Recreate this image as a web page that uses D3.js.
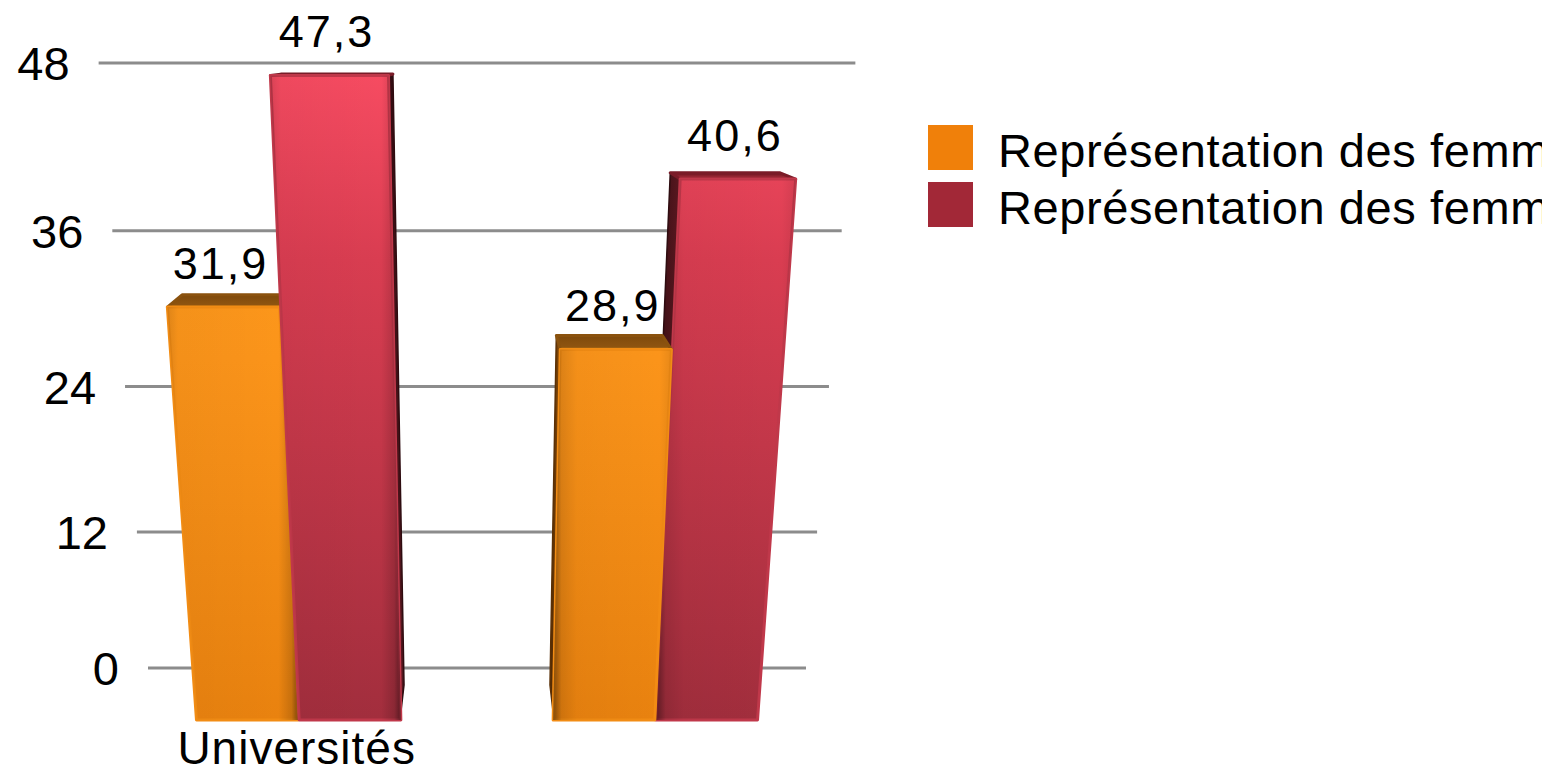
<!DOCTYPE html>
<html><head><meta charset="utf-8">
<script src="https://cdn.jsdelivr.net/npm/d3@7"></script>
<style>html,body{margin:0;padding:0;background:#fff;overflow:hidden}svg{display:block}</style>
</head><body>
<svg id="chart" width="1542" height="772"></svg>
<script>
// ---------- data ----------
const categories = ["Universités", ""];
const seriesNames = ["Représentation des femmes parmi les étudiants", "Représentation des femmes parmi les enseignants"];
const series1 = [31.9, 28.9];
const series2 = [47.3, 40.6];
const valueLabels1 = ["31,9", "28,9"];
const valueLabels2 = ["47,3", "40,6"];
const yTicks = [0, 12, 24, 36, 48];
const yTickLabels = ["0", "12", "24", "36", "48"];

// ---------- styles ----------
const FONT = "'Liberation Sans', Arial, sans-serif";
const legendColors = ["#F0800A", "#A22837"];

// ---------- camera (perspective) ----------
const W = 1542, H = 772;
const cx = 477, cy = 386, horizonY = 50, vpY = 4700;
const F = Math.sqrt((cy - horizonY) * (vpY - cy));
const phi = Math.atan((cy - horizonY) / F);
const cs = Math.cos(phi), sn = Math.sin(phi);
function proj(X, Y, Z) { const yc = Y * cs + Z * sn, zc = -Y * sn + Z * cs; return [cx + F * X / zc, cy - F * yc / zc]; }
function worldY(sy, Z) { const u = (cy - sy) / F; return Z * (u * cs - sn) / (cs + u * sn); }
function worldZ(sy, Y) { const u = (cy - sy) / F; return Y * (cs + u * sn) / (u * cs - sn); }
function worldX(sx, Y, Z) { const zc = -Y * sn + Z * cs; return (sx - cx) * zc / F; }
const Zw = 1000;
const floorY = worldY(668, Zw), wallTopY = worldY(63, Zw);
const Zf = worldZ(720, floorY);
const depth = 48;
const halfW = worldX(806, floorY, Zw);

// ---------- scales ----------
const y = d3.scaleLinear().domain([0, 48]).range([floorY, wallTopY]);
const xCat = d3.scaleBand().domain(categories).range([-halfW, halfW]).paddingInner(0.427).paddingOuter(0.2135);
const xSer = d3.scaleBand().domain([0, 1]).range([0, xCat.bandwidth()]).paddingInner(0.01);

const svg = d3.select("#chart");
const defs = svg.append("defs");

function lg(id, stops, x1, y1, x2, y2, units) {
  const g = defs.append("linearGradient").attr("id", id)
    .attr("x1", x1).attr("y1", y1).attr("x2", x2).attr("y2", y2);
  if (units) g.attr("gradientUnits", units);
  stops.forEach(s => g.append("stop").attr("offset", s[0]).attr("stop-color", s[1]).attr("stop-opacity", s[2] == null ? 1 : s[2]));
}
lg("frontO", [[0, "#FFA01E"], [0.45, "#FB941A"], [1, "#E9820F"]], 0, 63, 0, 720, "userSpaceOnUse");
lg("frontR", [[0, "#F84C62"], [0.3, "#D93D51"], [1, "#A22E3D"]], 0, 63, 0, 720, "userSpaceOnUse");
lg("topO", [[0, "#7E4A0C"], [0.8, "#8E5410"], [1, "#C07A14"]], 0, 0, 0, 1);
lg("topR", [[0, "#6A1620"], [1, "#B2303F"]], 0, 0, 0, 1);
lg("sideO", [[0, "#4A2604"], [1, "#8A4C08"]], 0, 0, 1, 0);
lg("sideR", [[0, "#2A0A0E"], [1, "#5A1820"]], 0, 0, 1, 0);
// edge shading: darker on the edge turned toward the centre of view
lg("shadeLeftDark", [[0, "#000", 0.45], [0.07, "#000", 0.12], [0.2, "#000", 0.03], [0.9, "#000", 0], [1, "#000", 0.08]], 0, 0, 1, 0);
lg("shadeRightDark", [[0, "#000", 0.12], [0.08, "#000", 0.03], [0.85, "#000", 0], [0.95, "#000", 0.15], [1, "#000", 0.45]], 0, 0, 1, 0);

// ---------- gridlines on back wall ----------
const grid = svg.append("g");
yTicks.forEach((t, i) => {
  const a = proj(-halfW, y(t), Zw), b = proj(halfW, y(t), Zw);
  grid.append("line").attr("x1", a[0]).attr("y1", a[1]).attr("x2", b[0]).attr("y2", b[1])
    .attr("stroke", "#8C8C8C").attr("stroke-width", 3);
  grid.append("text").attr("x", a[0] - 29).attr("y", a[1] + 17)
    .attr("text-anchor", "end").attr("font-family", FONT).attr("font-size", 47).attr("fill", "#000")
    .text(yTickLabels[i]);
});

// ---------- bars ----------
const bars = [];
categories.forEach((c, ci) => {
  [series1, series2].forEach((s, si) => {
    const X0 = xCat(c) + xSer(si), X1 = X0 + xSer.bandwidth();
    bars.push({ ci, si, v: s[ci], X0, X1, label: (si === 0 ? valueLabels1 : valueLabels2)[ci] });
  });
});
bars.sort((a, b) => Math.abs((b.X0 + b.X1) / 2) - Math.abs((a.X0 + a.X1) / 2));

const poly = pts => "M" + pts.map(p => p[0].toFixed(2) + "," + p[1].toFixed(2)).join("L") + "Z";
const gb = svg.append("g");
bars.forEach(b => {
  const Y0 = floorY, Y1 = y(b.v), Z0 = Zf, Z1 = Zf + depth;
  const key = b.si === 0 ? "O" : "R";
  const g = gb.append("g");
  const sideStroke = b.si === 0 ? "#5A3006" : "#2E0C10";
  if (b.X0 > 0) {
    g.append("path").attr("d", poly([proj(b.X0, Y0 + 6, Z1), proj(b.X0, Y1, Z1), proj(b.X0, Y1, Z0), proj(b.X0, Y0 + 6, Z0)]))
      .attr("fill", `url(#side${key})`).attr("stroke", sideStroke).attr("stroke-width", 1.5).attr("stroke-linejoin", "round");
  }
  if (b.X1 < 0) {
    g.append("path").attr("d", poly([proj(b.X1, Y0 + 6, Z0), proj(b.X1, Y1, Z0), proj(b.X1, Y1, Z1), proj(b.X1, Y0 + 6, Z1)]))
      .attr("fill", `url(#side${key})`).attr("stroke", sideStroke).attr("stroke-width", 1.5).attr("stroke-linejoin", "round");
  }
  const tf = proj(b.X0, Y1, Z0), tb = proj(b.X0, Y1, Z1);
  if (tb[1] < tf[1]) {
    g.append("path").attr("d", poly([proj(b.X0, Y1, Z1), proj(b.X1, Y1, Z1), proj(b.X1, Y1, Z0), proj(b.X0, Y1, Z0)]))
      .attr("fill", `url(#top${key})`).attr("stroke", b.si === 0 ? "#8A520E" : "#7A1C28").attr("stroke-width", 3).attr("stroke-linejoin", "round");
  }
  const front = poly([proj(b.X0, Y0, Z0), proj(b.X0, Y1, Z0), proj(b.X1, Y1, Z0), proj(b.X1, Y0, Z0)]);
  g.append("path").attr("d", front).attr("fill", `url(#front${key})`)
    .attr("stroke", b.si === 0 ? "#F28C14" : "#C0384A").attr("stroke-width", 3).attr("stroke-linejoin", "round");
  const centre = (b.X0 + b.X1) / 2;
  g.append("path").attr("d", front).attr("fill", centre > 0 ? "url(#shadeLeftDark)" : "url(#shadeRightDark)");
  const lp = proj(centre, Y1, Z0);
  svg.append("text").attr("x", lp[0] - 3).attr("y", lp[1] - 28)
    .attr("text-anchor", "middle").attr("font-family", FONT).attr("font-size", 45)
    .attr("letter-spacing", 2).attr("fill", "#000").text(b.label);
});

// ---------- category labels ----------
categories.forEach(c => {
  const p = proj(xCat(c) + xCat.bandwidth() / 2, floorY, Zf);
  svg.append("text").attr("x", p[0] - 2).attr("y", 764)
    .attr("text-anchor", "middle").attr("font-family", FONT).attr("font-size", 46)
    .attr("letter-spacing", 1).attr("fill", "#000").text(c);
});

// ---------- legend ----------
const leg = svg.append("g").attr("transform", "translate(928,125)");
seriesNames.forEach((n, i) => {
  leg.append("rect").attr("x", 0).attr("y", i * 57).attr("width", 45).attr("height", 45).attr("fill", legendColors[i]);
  leg.append("text").attr("x", 70).attr("y", i * 57 + 42).attr("font-family", FONT).attr("font-size", 47)
    .attr("letter-spacing", 0.6).attr("fill", "#000").text(n);
});
</script>
</body></html>
